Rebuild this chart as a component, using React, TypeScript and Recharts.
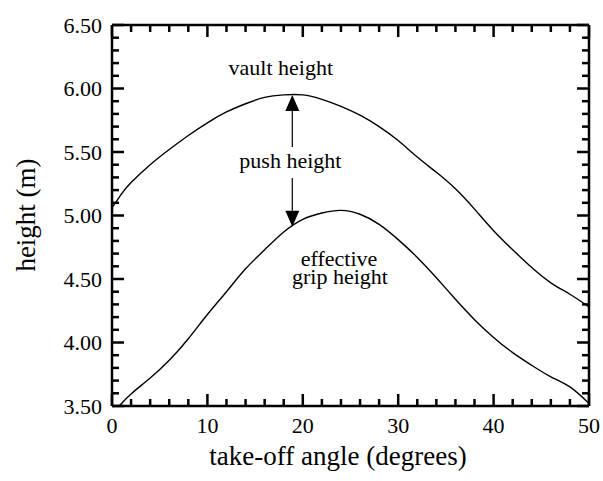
import { LineChart, Line, XAxis, YAxis, ReferenceLine, ReferenceDot } from 'recharts';

// take-off angle (degrees)
const angles = [0, 1, 2, 4, 6, 8, 10, 12, 14, 16, 18, 20, 22, 24, 26, 28, 30, 32, 34, 36, 38, 40, 42, 44, 46, 48, 50];
// vault height (m)
const vaultHeight = [5.06, 5.17, 5.26, 5.4, 5.52, 5.63, 5.73, 5.815, 5.88, 5.93, 5.95, 5.95, 5.915, 5.86, 5.79, 5.7, 5.59, 5.46, 5.34, 5.21, 5.05, 4.88, 4.73, 4.59, 4.47, 4.38, 4.28];
// effective grip height (m)
const gripHeight = [3.445, 3.52, 3.595, 3.72, 3.86, 4.03, 4.22, 4.4, 4.58, 4.73, 4.87, 4.97, 5.02, 5.04, 5.01, 4.93, 4.81, 4.67, 4.51, 4.34, 4.18, 4.04, 3.92, 3.82, 3.73, 3.65, 3.52];

const xTicks = [0, 2, 4, 6, 8, 10, 12, 14, 16, 18, 20, 22, 24, 26, 28, 30, 32, 34, 36, 38, 40, 42, 44, 46, 48, 50];
const yTicks = [3.5, 3.6, 3.7, 3.8, 3.9, 4.0, 4.1, 4.2, 4.3, 4.4, 4.5, 4.6, 4.7, 4.8, 4.9, 5.0, 5.1, 5.2, 5.3, 5.4, 5.5, 5.6, 5.7, 5.8, 5.9, 6.0, 6.1, 6.2, 6.3, 6.4, 6.5];

const data = angles.map((a, i) => ({ angle: a, vault: vaultHeight[i], grip: gripHeight[i] }));

const FONT = '"Liberation Serif", "Times New Roman", serif';
const MAJOR = 12;
const MINOR = 7;

const isMajorX = (v: number) => v % 10 === 0;
const isMajorY = (v: number) => Math.abs(v * 2 - Math.round(v * 2)) < 1e-6;

function LeftLabel(props: any) {
  const v = Number(props.payload.value);
  if (!isMajorY(v)) return <g />;
  return (
    <text x={Number(props.x) - 10} y={Number(props.y)} dy="0.35em" textAnchor="end" fontFamily={FONT} fontSize={22} fill="#000">
      {v.toFixed(2)}
    </text>
  );
}

function BottomLabel(props: any) {
  const v = Number(props.payload.value);
  if (!isMajorX(v)) return <g />;
  return (
    <text x={Number(props.x)} y={Number(props.y) + 27} textAnchor="middle" fontFamily={FONT} fontSize={22} fill="#000">
      {v}
    </text>
  );
}

// inward tick marks: short pieces at both ends of a full-span reference line
function VTick(p: any) {
  const len = p.tickLen;
  const top = Math.min(p.y1, p.y2);
  const bottom = Math.max(p.y1, p.y2);
  return (
    <g>
      <line x1={p.x1} y1={top} x2={p.x1} y2={top + len} stroke="#000" strokeWidth={2.5} />
      <line x1={p.x1} y1={bottom} x2={p.x1} y2={bottom - len} stroke="#000" strokeWidth={2.5} />
    </g>
  );
}

function HTick(p: any) {
  const len = p.tickLen;
  const left = Math.min(p.x1, p.x2);
  const right = Math.max(p.x1, p.x2);
  return (
    <g>
      <line x1={left} y1={p.y1} x2={left + len} y2={p.y1} stroke="#000" strokeWidth={2.5} />
      <line x1={right} y1={p.y1} x2={right - len} y2={p.y1} stroke="#000" strokeWidth={2.5} />
    </g>
  );
}

// line with a filled head at (x2, y2)
function Arrow(props: any) {
  const { x1, y1, x2, y2 } = props;
  const dir = y2 < y1 ? 1 : -1;
  const baseY = y2 + dir * 16;
  return (
    <g>
      <line x1={x1} y1={y1} x2={x2} y2={baseY} stroke="#000" strokeWidth={1.2} />
      <path d={`M${x2},${y2} L${x2 - 7},${baseY} L${x2 + 7},${baseY} Z`} fill="#000" />
    </g>
  );
}

const note = (text: string) => (p: any) => (
  <text x={p.cx} y={p.cy} textAnchor="middle" fontFamily={FONT} fontSize={22} fill="#000">
    {text}
  </text>
);

const axisLine = { stroke: '#000', strokeWidth: 2.5 };

export default function App() {
  return (
    <div style={{ position: 'absolute', left: 0, top: 0, width: 603, height: 481, background: '#fff' }}>
      <LineChart width={603} height={481} data={data} margin={{ top: 0, right: 0, bottom: 0, left: 0 }}>
        <XAxis
          xAxisId="bottom"
          dataKey="angle"
          type="number"
          domain={[0, 50]}
          ticks={xTicks}
          interval={0}
          height={75}
          axisLine={axisLine}
          tickLine={false}
          tickSize={0}
          tickMargin={0}
          tick={(p: any) => <BottomLabel {...p} />}
        />
        <XAxis
          xAxisId="top"
          orientation="top"
          dataKey="angle"
          type="number"
          domain={[0, 50]}
          allowDataOverflow
          height={25}
          axisLine={axisLine}
          tickLine={false}
          tick={false}
        />
        <YAxis
          yAxisId="left"
          type="number"
          domain={[3.5, 6.5]}
          allowDataOverflow
          ticks={yTicks}
          interval={0}
          width={112}
          axisLine={axisLine}
          tickLine={false}
          tickSize={0}
          tickMargin={0}
          tick={(p: any) => <LeftLabel {...p} />}
        />
        <YAxis
          yAxisId="right"
          orientation="right"
          type="number"
          domain={[3.5, 6.5]}
          allowDataOverflow
          width={14}
          axisLine={axisLine}
          tickLine={false}
          tick={false}
        />
        {xTicks.map((t) => (
          <ReferenceLine
            key={`xt${t}`}
            xAxisId="bottom"
            yAxisId="left"
            x={t}
            ifOverflow="visible"
            shape={<VTick tickLen={isMajorX(t) ? MAJOR : MINOR} />}
          />
        ))}
        {yTicks.map((t) => (
          <ReferenceLine
            key={`yt${t}`}
            xAxisId="bottom"
            yAxisId="left"
            y={t}
            ifOverflow="visible"
            shape={<HTick tickLen={isMajorY(t) ? MAJOR : MINOR} />}
          />
        ))}
        <Line
          xAxisId="bottom"
          yAxisId="left"
          type="natural"
          dataKey="vault"
          stroke="#000"
          strokeWidth={1.4}
          dot={false}
          isAnimationActive={false}
        />
        <Line
          xAxisId="bottom"
          yAxisId="left"
          type="natural"
          dataKey="grip"
          stroke="#000"
          strokeWidth={1.4}
          dot={false}
          isAnimationActive={false}
        />
        <ReferenceLine
          xAxisId="bottom"
          yAxisId="left"
          segment={[{ x: 18.9, y: 5.54 }, { x: 18.9, y: 5.949 }]}
          shape={Arrow}
        />
        <ReferenceLine
          xAxisId="bottom"
          yAxisId="left"
          segment={[{ x: 18.9, y: 5.295 }, { x: 18.9, y: 4.912 }]}
          shape={Arrow}
        />
        <ReferenceDot xAxisId="bottom" yAxisId="left" x={17.7} y={6.106} r={0} shape={note('vault height')} />
        <ReferenceDot xAxisId="bottom" yAxisId="left" x={18.7} y={5.374} r={0} shape={note('push height')} />
        <ReferenceDot xAxisId="bottom" yAxisId="left" x={23.8} y={4.605} r={0} shape={note('effective')} />
        <ReferenceDot xAxisId="bottom" yAxisId="left" x={23.9} y={4.46} r={0} shape={note('grip height')} />
      </LineChart>
      <div
        style={{
          position: 'absolute',
          left: 338,
          top: 470,
          transform: 'translate(-50%, -100%)',
          fontFamily: FONT,
          fontSize: 27,
          whiteSpace: 'nowrap',
          lineHeight: 1,
        }}
      >
        take-off angle (degrees)
      </div>
      <div
        style={{
          position: 'absolute',
          left: 26,
          top: 215,
          transform: 'translate(-50%, -50%) rotate(-90deg)',
          fontFamily: FONT,
          fontSize: 27,
          whiteSpace: 'nowrap',
          lineHeight: 1,
        }}
      >
        height (m)
      </div>
    </div>
  );
}
